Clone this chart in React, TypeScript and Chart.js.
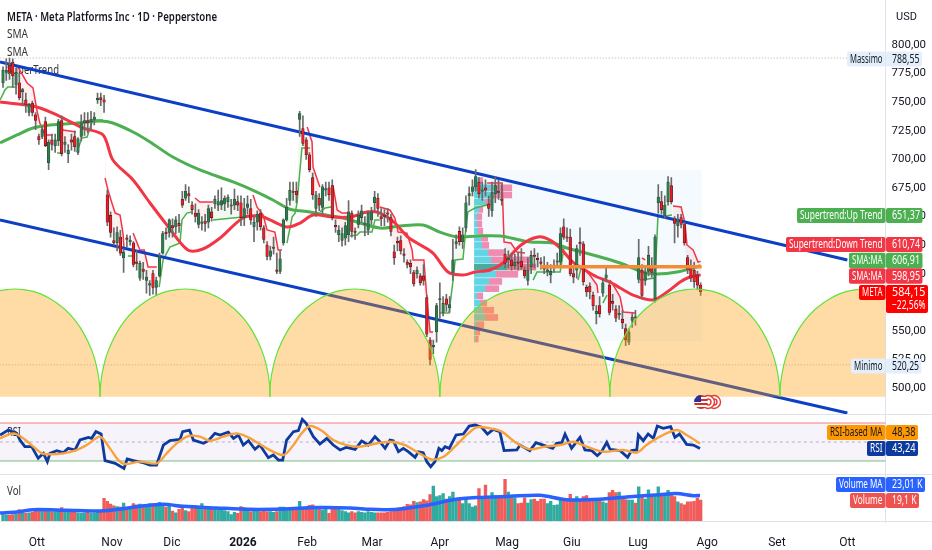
import React, { useEffect, useRef } from "react";
import { Chart, registerables } from "chart.js";

Chart.register(...registerables);

const opens = [
767,776,782,785,765,767,759,752,741,749,739,720,720,733,697,717,712,716,734,713,
705,717,720,706,720,732,734,733,735,752,754,752,669,651,629,627,632,614,631,628,
627,610,596,604,594,590,600,588,598,618,636,636,642,641,644,665,666,670,660,653,
643,644,646,645,654,661,660,660,661,663,659,660,663,662,649,658,657,641,645,653,
640,625,615,622,603,602,627,647,664,672,672,735,727,717,704,684,657,666,658,673,
675,677,642,634,629,631,634,653,637,643,649,643,638,647,662,666,650,651,653,649,
619,628,629,617,610,609,601,600,598,598,579,542,536,549,577,566,578,570,601,626,
637,628,640,668,672,676,680,672,675,661,655,670,672,665,617,612,612,607,610,611,
603,594,606,616,613,610,607,602,599,605,610,610,641,632,632,600,603,627,626,588,
589,581,565,572,583,596,590,576,569,564,560,552,540,559,562,595,603,594,602,607,
578,662,663,651,663,677,648,642,649,643,614,606,603,599,590];
const highs = [
781,788,788.55,788,780,775,762,758,749,751,741,722,729,737,717,722,722,735,738,720,
713,722,725,719,739,741,741,742,741,758,758,756,673,654,640,641,638,622,634,633,
628,620,611,610,603,594,603,597,618,637,640,648,648,650,652,672,678,676,663,661,
656,650,652,660,658,668,673,675,668,669,665,674,668,668,666,668,665,650,655,656,
642,628,624,632,618,620,648,666,680,680,680,742,738,719,706,688,672,670,678,680,
680,682,647,642,640,645,664,655,640,655,660,650,655,658,672,670,657,656,657,652,
625,632,633,622,612,612,603,606,600,608,581,544,542,574,592,580,582,580,630,634,
641,640,668,676,682,691,684,680,682,668,680,685,682,678,622,620,618,617,618,622,
606,614,620,622,618,614,615,610,608,612,618,640,648,640,639,605,625,640,628,590,
592,584,572,580,595,607,592,582,572,572,568,556,552,565,568,630,608,606,624,614,
634,678,672,668,685,684,650,652,652,645,616,612,610,602,592];
const lows = [
763,769,770,763,757,752,748,741,738,738,726,713,718,711,691,708,706,712,703,706,
697,708,707,704,716,721,723,726,730,749,747,741,642,632,625,620,616,601,623,625,
606,603,594,595,583,581,582,581,597,617,630,632,632,635,636,658,664,662,652,645,
640,638,637,640,646,657,655,656,655,658,652,656,655,642,642,652,643,628,638,638,
627,612,612,617,600,600,625,646,660,664,662,720,712,700,689,665,650,655,652,668,
664,647,636,628,624,625,628,632,630,640,645,633,634,643,655,650,642,642,645,633,
608,620,617,610,605,600,589,596,590,590,545,520.25,530,540,561,563,567,566,594,622,
625,622,637,660,668,672,666,664,668,650,650,662,665,660,605,605,603,604,603,604,
596,590,600,605,606,604,600,598,592,601,606,607,630,628,598,592,596,616,590,580,
578,568,556,562,580,593,564,568,558,560,552,537,538,553,555,592,578,590,598,597,
575,653,652,648,660,661,627,632,640,625,600,593,588,586,581];
const closes = [
778,778,776,773,776,754,761,748,748,741,734,717,726,712,715,713,717,733,705,715,
708,715,711,718,732,734,732,735,737,753,752,750,645,636,627,636,618,619,630,629,
608,609,609,602,597,590,588,594,615,635,635,647,640,647,642,660,672,668,656,650,
653,645,644,657,649,665,663,664,666,667,660,665,660,649,657,661,647,645,652,641,
630,615,620,623,602,613,647,658,673,671,669,740,714,704,691,669,669,660,676,674,
669,649,641,638,635,642,654,637,636,651,655,643,653,654,667,657,648,650,652,637,
614,627,620,616,608,606,591,603,592,594,547,525,537,572,578,574,573,573,612,628,
628,634,662,670,676,685,670,673,673,657,671,677,671,664,609,613,607,610,609,606,
598,603,616,615,612,609,604,603,602,606,611,635,632,631,600,597,622,626,593,584,
584,572,567,565,592,599,566,574,561,565,557,542,549,562,561,614,581,601,616,601,
632,667,656,660,680,663,644,646,643,627,604,596,593,590,584.15];
const volumes = [
6.5,6,6,6.5,7,10.7,8,7.5,8,8.5,11,11.5,10,11.5,11.7,9,9,10,12.5,9,
9.5,8.5,9,8,7.5,8,8.5,7.5,7.5,8.5,10,20.5,18,15.5,14,13.5,13,16.5,13,11.5,
16,15,15.5,14.5,14,16,16,15,17,16,13,14,9.5,8,11,12.5,10,9,13,14,
13,16,13.5,13,12,11,12.5,11.5,10,9,6.5,8.5,7.5,13.5,12.5,10.5,9,10.5,10,9,
10,9,9,8.5,9,13,13,11.5,12,12,11,18,11.5,13,14.5,15,12,11.5,10.5,12,
7.5,11,12,12,10,9,8,9,8,9,8.5,8,9,8.5,8,8,8,8,8.5,9,
9.5,12,12.5,13.5,15.4,15,18,16.8,17.5,19.4,18.3,23.8,31.3,22,23,24.7,20,22,26,19.4,
20,16,19,16,13,14,29,22,32,20,25.5,23,22,21,37,26,21,21,16,16.5,
21,16.5,19.4,20,18,20,20,16,18,14.5,15,20,20,19,24,18,22,20,22,23,
19,18,19,19,17.5,16.5,25.5,27.5,25.5,26,20,19.4,19,19,16.5,30.5,22,20,28,22,
23,30.5,23,24.7,27.5,24.7,22,17.5,16,15,17.5,17.5,18,21,19.1];

const smaFastIdx = [-0.9,9.2,15.3,19.6,24.5,30.7,33.7,39.9,45.1,50.3,56.7,61.3,66.6,73.6,78.8,81.9,87.1,91.1,95.1,101.2,106.4,111.7,114.7,117.8,120.2,124.2,127,131.9,136.5,141.1,144.8,149.4,153.4,158.9,164.1,167.8,170.9,174.8,178.5,182.2,186.2,189.3,193.3,199.4,203.7,207.7,210.7,214];
const smaFastVals = [750.1,746.6,740.5,734.4,727.4,721.3,699.4,681.9,661.8,642.5,620.7,621.6,631.2,648.7,650.4,647,640.8,644.3,651.3,649.5,649.5,653.9,653.9,649.5,644.3,632,626.8,618,601.4,598.8,601.4,603.2,609.3,625.1,632.1,629.4,622.4,610.2,603.2,597.1,592.7,587.5,581.3,577,584,592.7,597.1,598.95];
const smaSlowIdx = [-0.9,4.3,9.2,14.4,22.7,29.8,33.7,39.9,45.1,52.1,60.4,70.6,77.9,82.8,87.1,89,94.2,97.2,104.3,115.6,121.8,128.8,134,139.3,145.4,152.5,158.6,161.7,168.7,173,181,189.3,196.3,200.6,206.7,214];
const smaSlowVals = [714.3,721.3,727.4,730,731.8,733.5,731.8,723.9,715.2,702,690.7,680.2,671.4,664.4,657.4,655.7,654,652.2,648.7,639.9,641.7,642.6,636.4,632.1,633,633,629.4,627.7,626.8,622.4,616.3,609.3,601.4,599.7,601.4,606.91];

const stDownIdx = [4.3,7.4,9.2,10.4,11.3,12.9,15.3,16,
17.5,18.4,22.4,23,
31.3,32.2,33.4,34.4,35.9,36.8,37.1,38,
39.9,42,43.3,44.5,47.2,48,
58.9,60.4,64.4,65,
76.7,77.9,79.8,81,83.4,84.4,85.6,86,
93.3,94.8,95.1,97.2,98,
101.2,102.5,104,106.4,107,
115.6,118.7,120.2,121.2,123.9,125.5,125.8,129.1,130,131,131.9,132,
148.5,153.1,153.7,155.8,157.7,160.1,161,
178.5,180,182.2,182.5,183,
186.2,187.7,189.3,190.2,193.9,194.5,
196,197,198,
205.5,208,209.2,209.8,211.7,213.2,214];
const stDownVals = [782.5,766.8,762.4,743.1,731.8,721.3,721.3,null,
732.6,725.6,723.9,null,
683.7,673.2,661.8,653,651.3,635.5,623.3,null,
635.5,620.7,620.7,605.8,605.8,null,
666.2,662.7,662.7,null,
668.8,658.3,651.3,638.2,636.4,620.7,620.7,null,
728.3,715.2,693.3,675.8,null,
677.5,655.7,653,653,null,
658.3,655.7,648.7,636.4,635.5,620.7,612,612,579.6,549,549,null,
679.3,679.3,627.7,626.8,618.9,618.1,null,
603.2,598.8,590.1,583.1,null,
594.4,587.5,579.6,566.5,565.6,null,
613.7,612,null,
659.2,658.3,644.3,625.1,620.7,610.2,610.74];
const stUpIdx = [-0.9,0.6,1.5,4.3,5,
16.6,18.1,19,
22.7,24.2,25.8,26.7,27.6,30.7,31,
38.3,39.6,40,
47.9,49.1,51.2,54.3,54.9,56.4,58,59,
64.4,73.6,74,
87.1,88.7,89.6,90.2,91.7,94.2,95,
97.2,98.8,100.6,101,
106.4,108.6,109.5,113.2,114.1,115.6,116,
134,136.8,138,138.7,141.1,142,142.6,144.8,148.5,149,
162.6,163.8,170.9,171.5,172.1,173,
176.4,177.3,178,
184,185.3,186,
195.4,200,200.9,205.2];
const stUpVals = [751.9,760.6,763.3,763.3,null,
705.5,705.5,null,
706.4,718.6,719.5,727.4,734.4,734.4,null,
615.4,615.4,null,
588.3,612,623.3,626.8,647,653,653.9,null,
647,649.5,null,
626.8,649.5,653,661.8,709.9,709.9,null,
654,657.4,658.3,null,
632.9,633.8,636.4,636.4,647,647,null,
565.6,565.6,592.7,612,612.8,640,654,657.4,660,null,
594.4,601.4,601.4,612,623.3,null,
594.4,604.9,null,
574.3,581.3,null,
594.4,596.2,649.5,651.37];

const rsiIdx = [-0.9,1.6,4.2,5.2,6.7,8.8,10.8,12.4,13.6,14.4,16.5,18.5,20,22.1,23.6,25.2,26.2,27.2,28.5,30.1,31.3,34.4,37.1,38.1,40,43,45.1,47.1,49.2,51.2,54.3,55.1,57.2,58.4,61.5,63,65,66.6,69.1,70.7,72.2,73.7,75.3,77.3,78.8,81.4,82.9,84.5,85.8,87,89.1,90.6,91.8,93,95.2,97.2,99.3,101.3,103.4,105.4,108,110,
110.5,112,114.1,115.6,117.2,118.7,119.7,121.3,122.8,124.3,126.4,127.4,128.9,130,131.2,132.5,133.7,134.6,135.6,136.9,139,141.2,143,144.8,146.8,148.6,150.4,152.4,153.7,157.6,158.6,161.6,163.5,165.7,168.6,169.8,171.4,172.4,174.4,177,178.5,180.6,182.3,183.6,185.2,186.2,189.3,191.6,192.8,194.4,194.9,196.4,197.9,199.5,200.7,202.5,204.8,206.1,207.5,209.7,211.8,213.8];
const rsiVals = [57.4,62.6,59.1,52.1,45.1,45.1,32.8,38.1,29.3,38.1,40.9,38.8,43.3,41.6,52.1,53.9,54.9,53.9,60.9,58.4,30.3,27.5,22.2,32.1,30.3,28.2,25.8,25.8,46.8,51.4,52.8,60.9,62.6,52.1,48.6,51.4,59.1,57.4,60.5,53.9,57.4,46.8,51.4,42.3,46.8,33.5,36.3,31,31,52.1,60.9,62,73.9,69.6,55.6,47.9,53.9,46.8,41.6,44.4,42.3,51,
50.3,46.8,55.6,50.3,43.3,52.1,51.4,39.8,43.3,39.8,33.8,39.8,38.8,29.3,24,29.3,43.3,40.9,45.1,43.3,57.4,58.4,66.8,67.9,65.5,58.4,63.3,60.9,40.9,41.6,46.8,40.9,49.3,46.8,43.3,48.6,49.3,58.4,43.3,54.9,41.6,40.9,35.6,39.8,49.6,42.3,40.9,33.8,40.9,41.6,57.4,51.4,58.4,53.9,66.8,64.4,66.1,54.9,58.4,47.5,46.8,43.24];
const rsiMaIdx = [-0.9,3.2,6.2,9.3,11.9,14.4,18.5,22.1,25.7,29.8,32.8,35.4,37.4,42,47.1,50.2,53.3,56.9,60.4,63.5,67.6,71.7,75.8,80.9,86,89.1,91.6,94.2,97.8,101.3,105.4,109.5,113.6,118.7,123.3,126.9,131.5,135.1,138.6,142.2,145.3,149.4,153,157.6,161.6,166.2,170.9,174.9,179,184.1,190.3,194.4,197.4,201.5,206.6,209.7,213.8];
const rsiMaVals = [53.9,59.1,53.9,45.1,38.1,37.1,38.1,40.9,46.8,55.6,43.3,31,26.8,29.3,27.5,38.1,48.6,56.3,55.6,51.4,55.6,59.1,53.9,43.3,36.3,46.8,59.1,66.8,61.9,52.1,46.8,45.1,47.9,50.3,46.8,39.8,31.7,34.5,45.1,57.4,65.4,64.4,60.9,48.6,42.3,45.1,46.8,50.3,45.1,39.8,41.6,38.8,46.8,55.6,62.6,57.4,48.38];
const volMaIdx = [-0.9,4.2,9.3,19.5,29.8,36.9,42,49.2,55.3,65.5,75.8,86,96.2,106.4,112.6,117.7,122.8,130,138.1,145.3,155.5,164.7,172.9,184.1,191.3,201.5,206.6,211.8,213.8];
const volMaVals = [7.8,8.7,10.7,10.2,9.6,11.6,13.6,15.4,13.6,12.2,11,11.3,12.5,12.2,11,10.7,11.6,14.5,19.4,21.2,22.3,23.2,19.4,20,21.8,23.8,24.7,22.9,23.01];

const channelIdx = [-0.92, 259];
const channelUpper = [785.1, 611.9];
const channelLower = [646.9, 478.1];
const pocIdx = [164.7, 214.3];
const pocPrice = [606.1, 606.1];
const highPrice = 788.55;
const lowPrice = 520.25;

const arcCentres = [-48.3, 3.7, 55.85, 107.9, 160.1, 212.2, 264.4];
const arcOffsets = [-26.05,-26,-25.8,-24.75,-23.45,-20.85,-18.25,-15.65,-13,-10.4,-7.8,-5.2,-2.6,0,2.6,5.2,7.8,10.4,13,15.65,18.25,20.85,23.45,24.75,25.8,26,26.05];
const arcHeights = [0,5.9,13.3,29.4,41.1,56.5,67.3,75.4,81.6,86.4,89.9,92.3,93.7,94.2,93.7,92.3,89.9,86.4,81.6,75.4,67.3,56.5,41.1,29.4,13.3,5.9,0];
const arcBase = 492.4;

const vpLevels = [542.8,549.1,555.4,561.7,568,574.3,580.6,586.9,593.2,599.5,605.8,612.1,618.4,624.7,631,637.3,643.6,649.9,656.2,662.5,668.8,675.1,681.4];
const vpUp = [1.5,2,3,11,9,6,3,11,15,22,33,17,14,8,7,4,3,3,5,11,17,20,4];
const vpDown = [3,4,7,13,11,7,6,14,13,22,29,40,16,7,7,5,5,5,4,8,21,18,5];

const monthIdx = [10.4,33.4,51.8,73.6,93.3,113.2,134,154.6,174.5,194.8,216,237.4,259];
const monthLabels = ["Ott","Nov","Dic","2026","Feb","Mar","Apr","Mag","Giu","Lug","Ago","Set","Ott"];
const priceTicks = [500,525,550,575,600,625,650,675,700,725,750,775,800];

const FONT = '"Noto Sans", sans-serif';
const TICK_FONT = 'Roboto, sans-serif';
const xy = (xs: number[], ys: (number | null)[]) => xs.map((x, i) => ({ x, y: ys[i] }));
const idx = opens.map((_, i) => i);
const isUp = (i: number) => closes[i] >= opens[i];

type Badge = { label: string; value: string; sub?: string; y: number; h: number; left: number; right: number; bg: string; fg: string };
const badges: Badge[] = [
  { label: "Massimo", value: "788,55", y: 59, h: 15, left: 847, right: 922, bg: "#e3f0fb", fg: "#131722" },
  { label: "Supertrend:Up Trend", value: "651,37", y: 215.5, h: 15, left: 797, right: 922.5, bg: "#4caf50", fg: "#ffffff" },
  { label: "Supertrend:Down Trend", value: "610,74", y: 244.5, h: 15, left: 786, right: 922.5, bg: "#f23645", fg: "#ffffff" },
  { label: "SMA:MA", value: "606,91", y: 260.5, h: 15.5, left: 849, right: 922.5, bg: "#4caf50", fg: "#ffffff" },
  { label: "SMA:MA", value: "598,95", y: 276, h: 15.5, left: 849, right: 922.5, bg: "#f23645", fg: "#ffffff" },
  { label: "META", value: "584,15", sub: "\u221222,56%", y: 292.5, h: 15, left: 859, right: 928, bg: "#ff0000", fg: "#ffffff" },
  { label: "Minimo", value: "520,25", y: 366, h: 15, left: 851, right: 921.5, bg: "#e3f0fb", fg: "#131722" },
  { label: "RSI-based MA", value: "48,38", y: 432.5, h: 15, left: 827, right: 918, bg: "#ff9800", fg: "#131722" },
  { label: "RSI", value: "43,24", y: 448.5, h: 15, left: 867, right: 918, bg: "#0d3a9e", fg: "#ffffff" },
  { label: "Volume MA", value: "23,01 K", y: 484.5, h: 15, left: 836, right: 925, bg: "#2962ff", fg: "#ffffff" },
  { label: "Volume", value: "19,1 K", y: 500.5, h: 15, left: 850, right: 919, bg: "#ef5350", fg: "#ffffff" },
];

const AXIS_X = 885.5;

const backPlugin = {
  id: "back",
  beforeDatasetsDraw(chart: any) {
    const { ctx, scales } = chart;
    const x = scales.x, y = scales.y;
    ctx.save();
    const x0 = x.getPixelForValue(144.5), x1 = x.getPixelForValue(214.3);
    const yt = y.getPixelForValue(690.7), yb = y.getPixelForValue(541);
    ctx.fillStyle = "rgba(33,150,243,0.05)";
    ctx.fillRect(x0, yt, x1 - x0, yb - yt);
    const step = 3.26;
    vpLevels.forEach((lv, i) => {
      const top = y.getPixelForValue(lv + 2.9), bot = y.getPixelForValue(lv - 2.9);
      const poc = i === 10;
      const xu = x.getPixelForValue(144.5 + vpUp[i] / step);
      const xd = x.getPixelForValue(144.5 + (vpUp[i] + vpDown[i]) / step);
      ctx.fillStyle = poc ? "rgba(30,150,135,0.8)" : "rgba(0,188,212,0.6)";
      ctx.fillRect(x0, top, xu - x0, bot - top);
      ctx.fillStyle = poc ? "rgba(240,70,90,0.7)" : "rgba(233,30,99,0.5)";
      ctx.fillRect(xu, top, xd - xu, bot - top);
    });
    ctx.textBaseline = "middle";
    ctx.textAlign = "left";
    ctx.fillStyle = "#131722";
    ctx.font = `600 12.5px ${FONT}`;
    ctx.fillText("META \u00b7 Meta Platforms Inc \u00b7 1D \u00b7 Pepperstone", 7, 17, 210);
    ctx.font = `12.5px ${FONT}`;
    ctx.fillStyle = "#333";
    ctx.fillText("SMA", 7, 34.5, 21);
    ctx.fillText("SMA", 7, 52, 21);
    ctx.fillText("SuperTrend", 7, 70, 52);
    ctx.fillText("RSI", 7, 432, 14);
    ctx.fillText("Vol", 7, 491, 14);
    ctx.restore();
  },
};

const frontPlugin = {
  id: "front",
  afterDraw(chart: any) {
    const { ctx } = chart;
    const W = chart.width;
    ctx.save();
    ctx.strokeStyle = "#e0e3eb";
    ctx.lineWidth = 1;
    [414.5, 474.5, 521.5].forEach((py) => {
      ctx.beginPath();
      ctx.moveTo(0, py);
      ctx.lineTo(W, py);
      ctx.stroke();
    });
    const icons = [714, 708];
    icons.forEach((cx) => {
      ctx.beginPath();
      ctx.arc(cx, 402, 6.5, 0, Math.PI * 2);
      ctx.fillStyle = "#fff";
      ctx.fill();
      ctx.strokeStyle = "#e53935";
      ctx.lineWidth = 1.4;
      ctx.stroke();
      ctx.beginPath();
      ctx.arc(cx, 402, 3, 0, Math.PI * 2);
      ctx.stroke();
    });
    ctx.save();
    ctx.beginPath();
    ctx.arc(701, 402, 7, 0, Math.PI * 2);
    ctx.clip();
    ["#d32f2f", "#fff", "#d32f2f", "#fff", "#d32f2f", "#fff", "#d32f2f"].forEach((c, i) => {
      ctx.fillStyle = c;
      ctx.fillRect(694, 395 + i * 2, 14, 2);
    });
    ctx.fillStyle = "#283593";
    ctx.fillRect(694, 395, 7, 7);
    ctx.restore();
    ctx.textBaseline = "middle";
    ctx.lineWidth = 1;
    const rr = (a: number, b: number, w: number, h: number, r: number) => {
      ctx.beginPath();
      ctx.roundRect(a, b, w, h, r);
      ctx.fill();
    };
    badges.forEach((b) => {
      const top = b.y - b.h / 2;
      const fullH = b.sub ? 28 : b.h;
      ctx.fillStyle = b.bg;
      rr(b.left, top, AXIS_X - b.left, b.h, 2);
      rr(AXIS_X + 0.5, top, b.right - AXIS_X - 0.5, fullH, 2);
      ctx.fillStyle = b.fg;
      ctx.textAlign = "left";
      ctx.font = `12px ${FONT}`;
      ctx.fillText(b.label, b.left + 3, b.y + 0.5, AXIS_X - b.left - 6);
      ctx.fillText(b.value, AXIS_X + 6.5, b.y + 0.5, b.right - AXIS_X - 9);
      if (b.sub) ctx.fillText(b.sub, AXIS_X + 6.5, b.y + 13.5, b.right - AXIS_X - 9);
    });
    ctx.fillStyle = "#131722";
    ctx.font = `11px ${TICK_FONT}`;
    ctx.textAlign = "left";
    ctx.fillText("USD", 896, 17);
    ctx.restore();
  },
};

export default function App() {
  const ref = useRef<HTMLCanvasElement>(null);
  useEffect(() => {
    if (!ref.current) return;
    document.body.style.margin = "0";
    const up = "#2e7d4f", down = "#ee1c25";
    const baseLine = { pointRadius: 0, fill: false, yAxisID: "y", type: "line" as const };
    const datasets: any[] = [
      { ...baseLine, data: xy(idx, closes), borderWidth: 0, borderColor: "transparent", order: 30 },
      { ...baseLine, data: xy(stUpIdx, stUpVals), borderColor: "#4caf50", borderWidth: 1.5, fill: { target: 0 }, backgroundColor: "rgba(76,175,80,0.08)", spanGaps: false, order: 16 },
      { ...baseLine, data: xy(stDownIdx, stDownVals), borderColor: "#f23645", borderWidth: 1.5, fill: { target: 0 }, backgroundColor: "rgba(242,54,69,0.08)", spanGaps: false, order: 15 },
      { ...baseLine, data: [{ x: -1, y: highPrice }, { x: 271, y: highPrice }], borderColor: "rgba(120,123,134,0.6)", borderWidth: 1, borderDash: [1, 2], order: 20 },
      { ...baseLine, data: [{ x: -1, y: lowPrice }, { x: 271, y: lowPrice }], borderColor: "rgba(120,123,134,0.6)", borderWidth: 1, borderDash: [1, 2], order: 20 },
      { ...baseLine, data: xy(smaSlowIdx, smaSlowVals), borderColor: "#4caf50", borderWidth: 3, tension: 0.3, order: 14 },
      { ...baseLine, data: xy(smaFastIdx, smaFastVals), borderColor: "#f23645", borderWidth: 3, tension: 0.3, order: 13 },
      { ...baseLine, data: xy(channelIdx, channelUpper), borderColor: "#0d3fc4", borderWidth: 3, order: 12 },
      { ...baseLine, data: xy(channelIdx, channelLower), borderColor: "#0d3fc4", borderWidth: 3, order: 12 },
      { type: "bar", yAxisID: "y", grouped: false, barThickness: 1, backgroundColor: "#6a6a6a", order: 11,
        data: idx.map((i) => ({ x: i, y: [lows[i], highs[i]] })) },
      { type: "bar", yAxisID: "y", grouped: false, barThickness: 2.6, minBarLength: 1.5, borderSkipped: false, borderWidth: 0.6, order: 10,
        backgroundColor: idx.map((i) => (isUp(i) ? up : down)),
        borderColor: idx.map((i) => (isUp(i) ? "#2a4a38" : "#4a1a1a")),
        data: idx.map((i) => ({ x: i, y: [opens[i], closes[i]] })) },
      { ...baseLine, data: xy(pocIdx, pocPrice), borderColor: "#f58b35", borderWidth: 3.5, order: 9 },
      ...arcCentres.map((c) => ({
        ...baseLine,
        data: arcOffsets.map((o, k) => ({ x: c + o, y: arcBase + arcHeights[k] })),
        borderColor: "#62e23a",
        borderWidth: 1.2,
        cubicInterpolationMode: "monotone",
        backgroundColor: "rgba(255,152,0,0.35)",
        fill: { value: arcBase },
        order: 5,
      })),
      { ...baseLine, yAxisID: "yRsi", data: [{ x: -1, y: 70 }, { x: 271, y: 70 }], borderColor: "rgba(242,100,100,0.55)", borderWidth: 1.6, fill: "+1", backgroundColor: "rgba(126,87,194,0.07)", order: 8 },
      { ...baseLine, yAxisID: "yRsi", data: [{ x: -1, y: 30 }, { x: 271, y: 30 }], borderColor: "rgba(76,175,80,0.5)", borderWidth: 1.6, order: 8 },
      { ...baseLine, yAxisID: "yRsi", data: [{ x: -1, y: 50 }, { x: 271, y: 50 }], borderColor: "rgba(120,123,134,0.55)", borderWidth: 1, borderDash: [3, 3], order: 8 },
      { ...baseLine, yAxisID: "yRsi", data: xy(rsiIdx, rsiVals), borderColor: "#0d3a9e", borderWidth: 2.8, order: 3 },
      { ...baseLine, yAxisID: "yRsi", data: xy(rsiMaIdx, rsiMaVals), borderColor: "#f7a23b", borderWidth: 2.4, tension: 0.3, order: 2 },
      { type: "bar", yAxisID: "yVol", grouped: false, barThickness: 2.7,
        backgroundColor: idx.map((i) => (isUp(i) ? "rgba(38,166,154,0.95)" : "rgba(239,83,80,0.95)")),
        data: idx.map((i) => ({ x: i, y: volumes[i] })), order: 4 },
      { ...baseLine, yAxisID: "yVol", data: xy(volMaIdx, volMaVals), borderColor: "#2962ff", borderWidth: 3.5, tension: 0.3, order: 1 },
    ];
    const zeroPad = (s: any) => { s.paddingTop = 0; s.paddingBottom = 0; s.paddingLeft = 0; s.paddingRight = 0; };
    const chart = new Chart(ref.current, {
      type: "bar",
      data: { datasets },
      plugins: [backPlugin, frontPlugin],
      options: {
        animation: false,
        responsive: false,
        events: [],
        layout: { padding: 0 },
        plugins: { legend: { display: false }, tooltip: { enabled: false }, title: { display: false } },
        scales: {
          x: {
            type: "linear",
            min: -0.92,
            max: 270.7,
            offset: false,
            grid: { display: false },
            border: { display: false },
            afterFit: (s: any) => { s.height = 28; zeroPad(s); },
            afterBuildTicks: (s: any) => { s.ticks = monthIdx.map((value) => ({ value })); },
            ticks: {
              autoSkip: false,
              maxRotation: 0,
              padding: 6,
              color: "#131722",
              callback: (_v: any, i: number) => monthLabels[i],
              font: (c: any) => ({ family: TICK_FONT, size: 12, weight: c.index === 3 ? "bold" : "normal" }),
            },
          },
          y: {
            position: "right",
            min: 382.8,
            max: 839.36,
            grid: { display: false, drawTicks: false },
            border: { display: true, color: "#e0e3eb" },
            afterFit: (s: any) => { s.width = 46.5; zeroPad(s); },
            afterBuildTicks: (s: any) => { s.ticks = priceTicks.map((value) => ({ value })); },
            ticks: {
              padding: 6,
              color: "#131722",
              font: { family: TICK_FONT, size: 11.5 },
              callback: (v: any) => Number(v).toFixed(2).replace(".", ","),
            },
          },
          yRsi: { display: false, min: -34.2, max: 515.26 },
          yVol: { display: false, min: 0, max: 453.9 },
        },
      },
    } as any);
    return () => chart.destroy();
  }, []);
  return <canvas ref={ref} width={932} height={550} style={{ display: "block", position: "fixed", left: 0, top: 0 }} />;
}
